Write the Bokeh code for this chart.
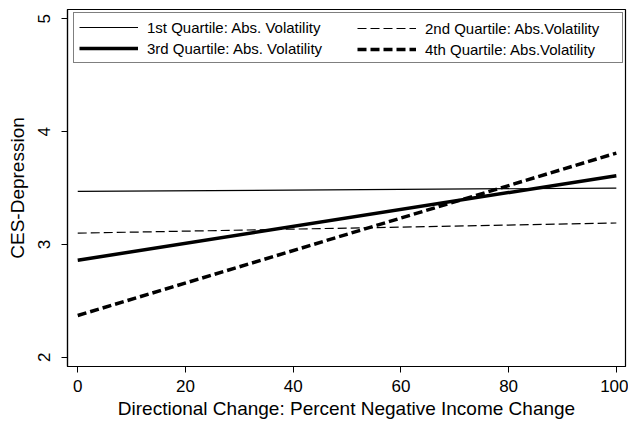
from bokeh.plotting import figure
from bokeh.models import Range1d, Legend, LegendItem, FixedTicker
from bokeh.embed import file_html
from bokeh.resources import INLINE

# Data (linear predictions)
pct_neg = [0, 100]
q1 = [3.47, 3.50]
q2 = [3.10, 3.19]
q3 = [2.86, 3.61]
q4 = [2.37, 3.81]

labels = ["1st Quartile: Abs. Volatility", "2nd Quartile: Abs.Volatility",
          "3rd Quartile: Abs. Volatility", "4th Quartile: Abs.Volatility"]
x_ticks = [0, 20, 40, 60, 80, 100]
y_ticks = [2, 3, 4, 5]

FONT = "Liberation Sans"

p = figure(width=628, height=421, output_backend="svg", toolbar_location=None,
           x_range=Range1d(-1.9, 101.7), y_range=Range1d(1.918, 5.083),
           min_border_left=67, min_border_right=3, min_border_top=9, min_border_bottom=55)
p.background_fill_color = "white"
p.border_fill_color = "white"
p.outline_line_color = "black"
p.outline_line_width = 1.2
p.xgrid.visible = False
p.ygrid.visible = False

r1 = p.line(pct_neg, q1, line_color="black", line_width=1.2)
r2 = p.line(pct_neg, q2, line_color="black", line_width=1.2, line_dash="9 4")
r3 = p.line(pct_neg, q3, line_color="black", line_width=3.5)
r4 = p.line(pct_neg, q4, line_color="black", line_width=3.5, line_dash="9 4")

for ax in (p.xaxis[0], p.yaxis[0]):
    ax.axis_line_color = "black"
    ax.axis_line_width = 1.2
    ax.major_tick_line_color = "black"
    ax.major_tick_out = 6
    ax.major_tick_in = 0
    ax.minor_tick_line_color = None
    ax.major_label_text_font = FONT
    ax.major_label_text_font_size = "17px"
    ax.major_label_text_color = "black"
    ax.axis_label_text_font = FONT
    ax.axis_label_text_font_size = "19px"
    ax.axis_label_text_font_style = "normal"
    ax.axis_label_text_color = "black"

p.xaxis[0].ticker = FixedTicker(ticks=x_ticks)
p.yaxis[0].ticker = FixedTicker(ticks=y_ticks)
p.yaxis[0].major_label_orientation = "vertical"
p.xaxis[0].axis_label = "Directional Change: Percent Negative Income Change"
p.yaxis[0].axis_label = "CES-Depression"
p.xaxis[0].major_label_standoff = 7
p.xaxis[0].axis_label_standoff = 3
p.yaxis[0].major_label_standoff = 11
p.yaxis[0].axis_label_standoff = 8


def style_legend(lg):
    lg.margin = 0
    lg.padding = 5
    lg.spacing = 3
    lg.glyph_width = 59
    lg.glyph_height = 18
    lg.label_height = 18
    lg.label_standoff = 9
    lg.label_text_font = FONT
    lg.label_text_font_size = "15px"
    lg.label_text_color = "black"
    lg.border_line_color = "black"
    lg.border_line_width = 1


# left column legend carries the full-width box
legend_a = Legend(items=[
    LegendItem(label=labels[0], renderers=[r1]),
    LegendItem(label=labels[2], renderers=[r3]),
], location=(6, 303))
style_legend(legend_a)
legend_a.label_width = 470
legend_a.background_fill_color = "white"
legend_a.background_fill_alpha = 1
p.add_layout(legend_a)

# right column legend, transparent, overlaid inside the same box
legend_b = Legend(items=[
    LegendItem(label=labels[1], renderers=[r2]),
    LegendItem(label=labels[3], renderers=[r4]),
], location=(285, 303))
style_legend(legend_b)
legend_b.label_width = 100
legend_b.border_line_alpha = 0
legend_b.background_fill_alpha = 0
p.add_layout(legend_b)

open("out.html", "w").write(file_html(p, INLINE))
